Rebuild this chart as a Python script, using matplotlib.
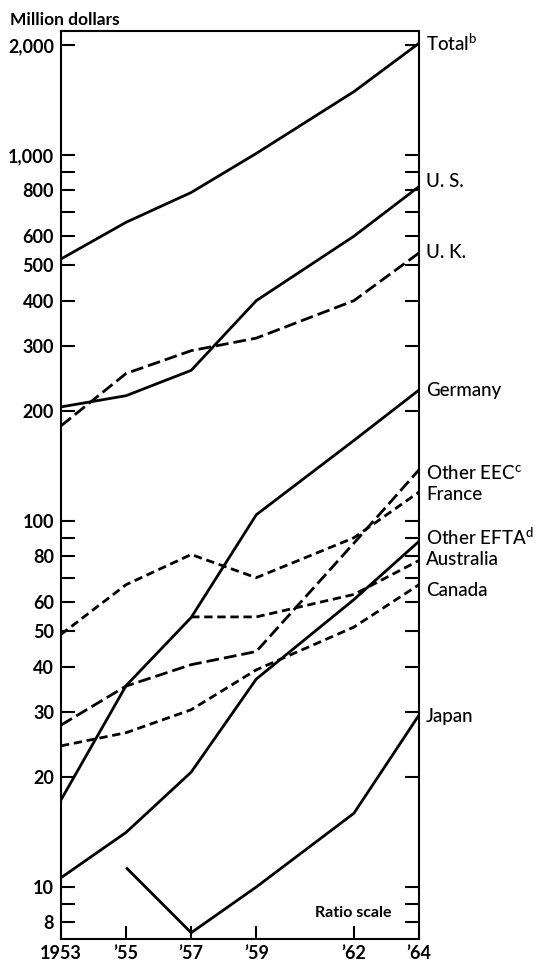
import matplotlib
matplotlib.use("Agg")
import matplotlib.pyplot as plt
from matplotlib.ticker import FixedLocator, FixedFormatter, NullLocator

plt.rcParams['font.family'] = ['Lato', 'DejaVu Sans']
plt.rcParams['mathtext.fontset'] = 'custom'
plt.rcParams['mathtext.rm'] = 'Lato'
plt.rcParams['mathtext.default'] = 'regular'

# ---- data (million dollars) ----
years = [1953, 1955, 1957, 1959, 1962, 1964]
total = [520, 655, 790, 1010, 1490, 2020]
us = [205, 220, 258, 400, 600, 820]
uk = [182, 253, 292, 316, 400, 540]
germany = [17.3, 35.5, 54.5, 104, 166, 228]
other_eec = [27.7, 35.4, 40.5, 44, 87, 138]
france = [49, 67, 81, 70, 90, 120]
other_efta = [10.6, 14.1, 20.6, 37, 61, 88]
canada = [24.3, 26.4, 30.5, 39.2, 51.3, 67]
years_australia = [1957, 1959, 1962, 1964]
australia = [54.7, 54.7, 63, 78]
years_japan = [1955, 1957, 1959, 1962, 1964]
japan = [11.3, 7.5, 10, 15.9, 29.5]

y_ticks = [8, 9, 10, 20, 30, 40, 50, 60, 70, 80, 90, 100, 200, 300, 400,
           500, 600, 700, 800, 900, 1000, 2000]
y_ticklabels = ['8', '', '10', '20', '30', '40', '50', '60', '', '80', '', '100',
                '200', '300', '400', '500', '600', '', '800', '', '1,000', '2,000']
x_ticks = [1953, 1955, 1957, 1959, 1962, 1964]
x_ticklabels = ['1953', '’55', '’57', '’59', '’62', '’64']

fig = plt.figure(figsize=(5.43, 9.61), dpi=100)
ax = fig.add_axes([61/543, 22/961, 358/543, 908/961])
ax.set_yscale('log')
ax.set_xlim(1953, 1964)
ax.set_ylim(7.21, 2182)

LW = 2.0
solid = dict(color='black', lw=LW, solid_joinstyle='round', solid_capstyle='butt')
long_dash = dict(color='black', lw=LW, dashes=(4.6, 1.8))
short_dash = dict(color='black', lw=LW, dashes=(3.0, 1.7))

series = [
    (years, total, solid, r'Total$^{b}$', 0),
    (years, us, solid, 'U. S.', 4),
    (years, uk, long_dash, 'U. K.', 0),
    (years, germany, solid, 'Germany', 0),
    (years, other_eec, long_dash, r'Other EEC$^{c}$', -2),
    (years, france, short_dash, 'France', -2),
    (years, other_efta, solid, r'Other EFTA$^{d}$', 3),
    (years_australia, australia, short_dash, 'Australia', 1),
    (years, canada, short_dash, 'Canada', -4),
    (years_japan, japan, solid, 'Japan', -1),
]
for xs, ys, style, label, dy in series:
    ax.plot(xs, ys, **style)
    ax.annotate(label, xy=(xs[-1], ys[-1]), xytext=(5, dy), textcoords='offset points',
                ha='left', va='center', fontsize=13.5, fontweight='medium',
                annotation_clip=False)

ax.yaxis.set_major_locator(FixedLocator(y_ticks))
ax.yaxis.set_major_formatter(FixedFormatter(y_ticklabels))
ax.yaxis.set_minor_locator(NullLocator())
ax.xaxis.set_major_locator(FixedLocator(x_ticks))
ax.xaxis.set_major_formatter(FixedFormatter(x_ticklabels))
ax.xaxis.set_minor_locator(NullLocator())

ax.tick_params(axis='y', which='major', direction='in', length=10, width=1.5,
               left=True, right=True, labelsize=13, pad=5)
ax.tick_params(axis='x', which='major', direction='in', length=9.5, width=1.5,
               bottom=True, top=False, labelsize=13, pad=4)
for lab in ax.get_yticklabels() + ax.get_xticklabels():
    lab.set_fontweight('bold')

for s in ax.spines.values():
    s.set_linewidth(1.5)

fig.text(10/543, 1 - 20/961, 'Million dollars', ha='left', va='center',
         fontsize=12.5, fontweight='bold')
ax.text(0.71, 0.029, 'Ratio scale', transform=ax.transAxes, ha='left', va='center',
        fontsize=11.5, fontweight='bold')

fig.savefig('out.png', dpi=100)
